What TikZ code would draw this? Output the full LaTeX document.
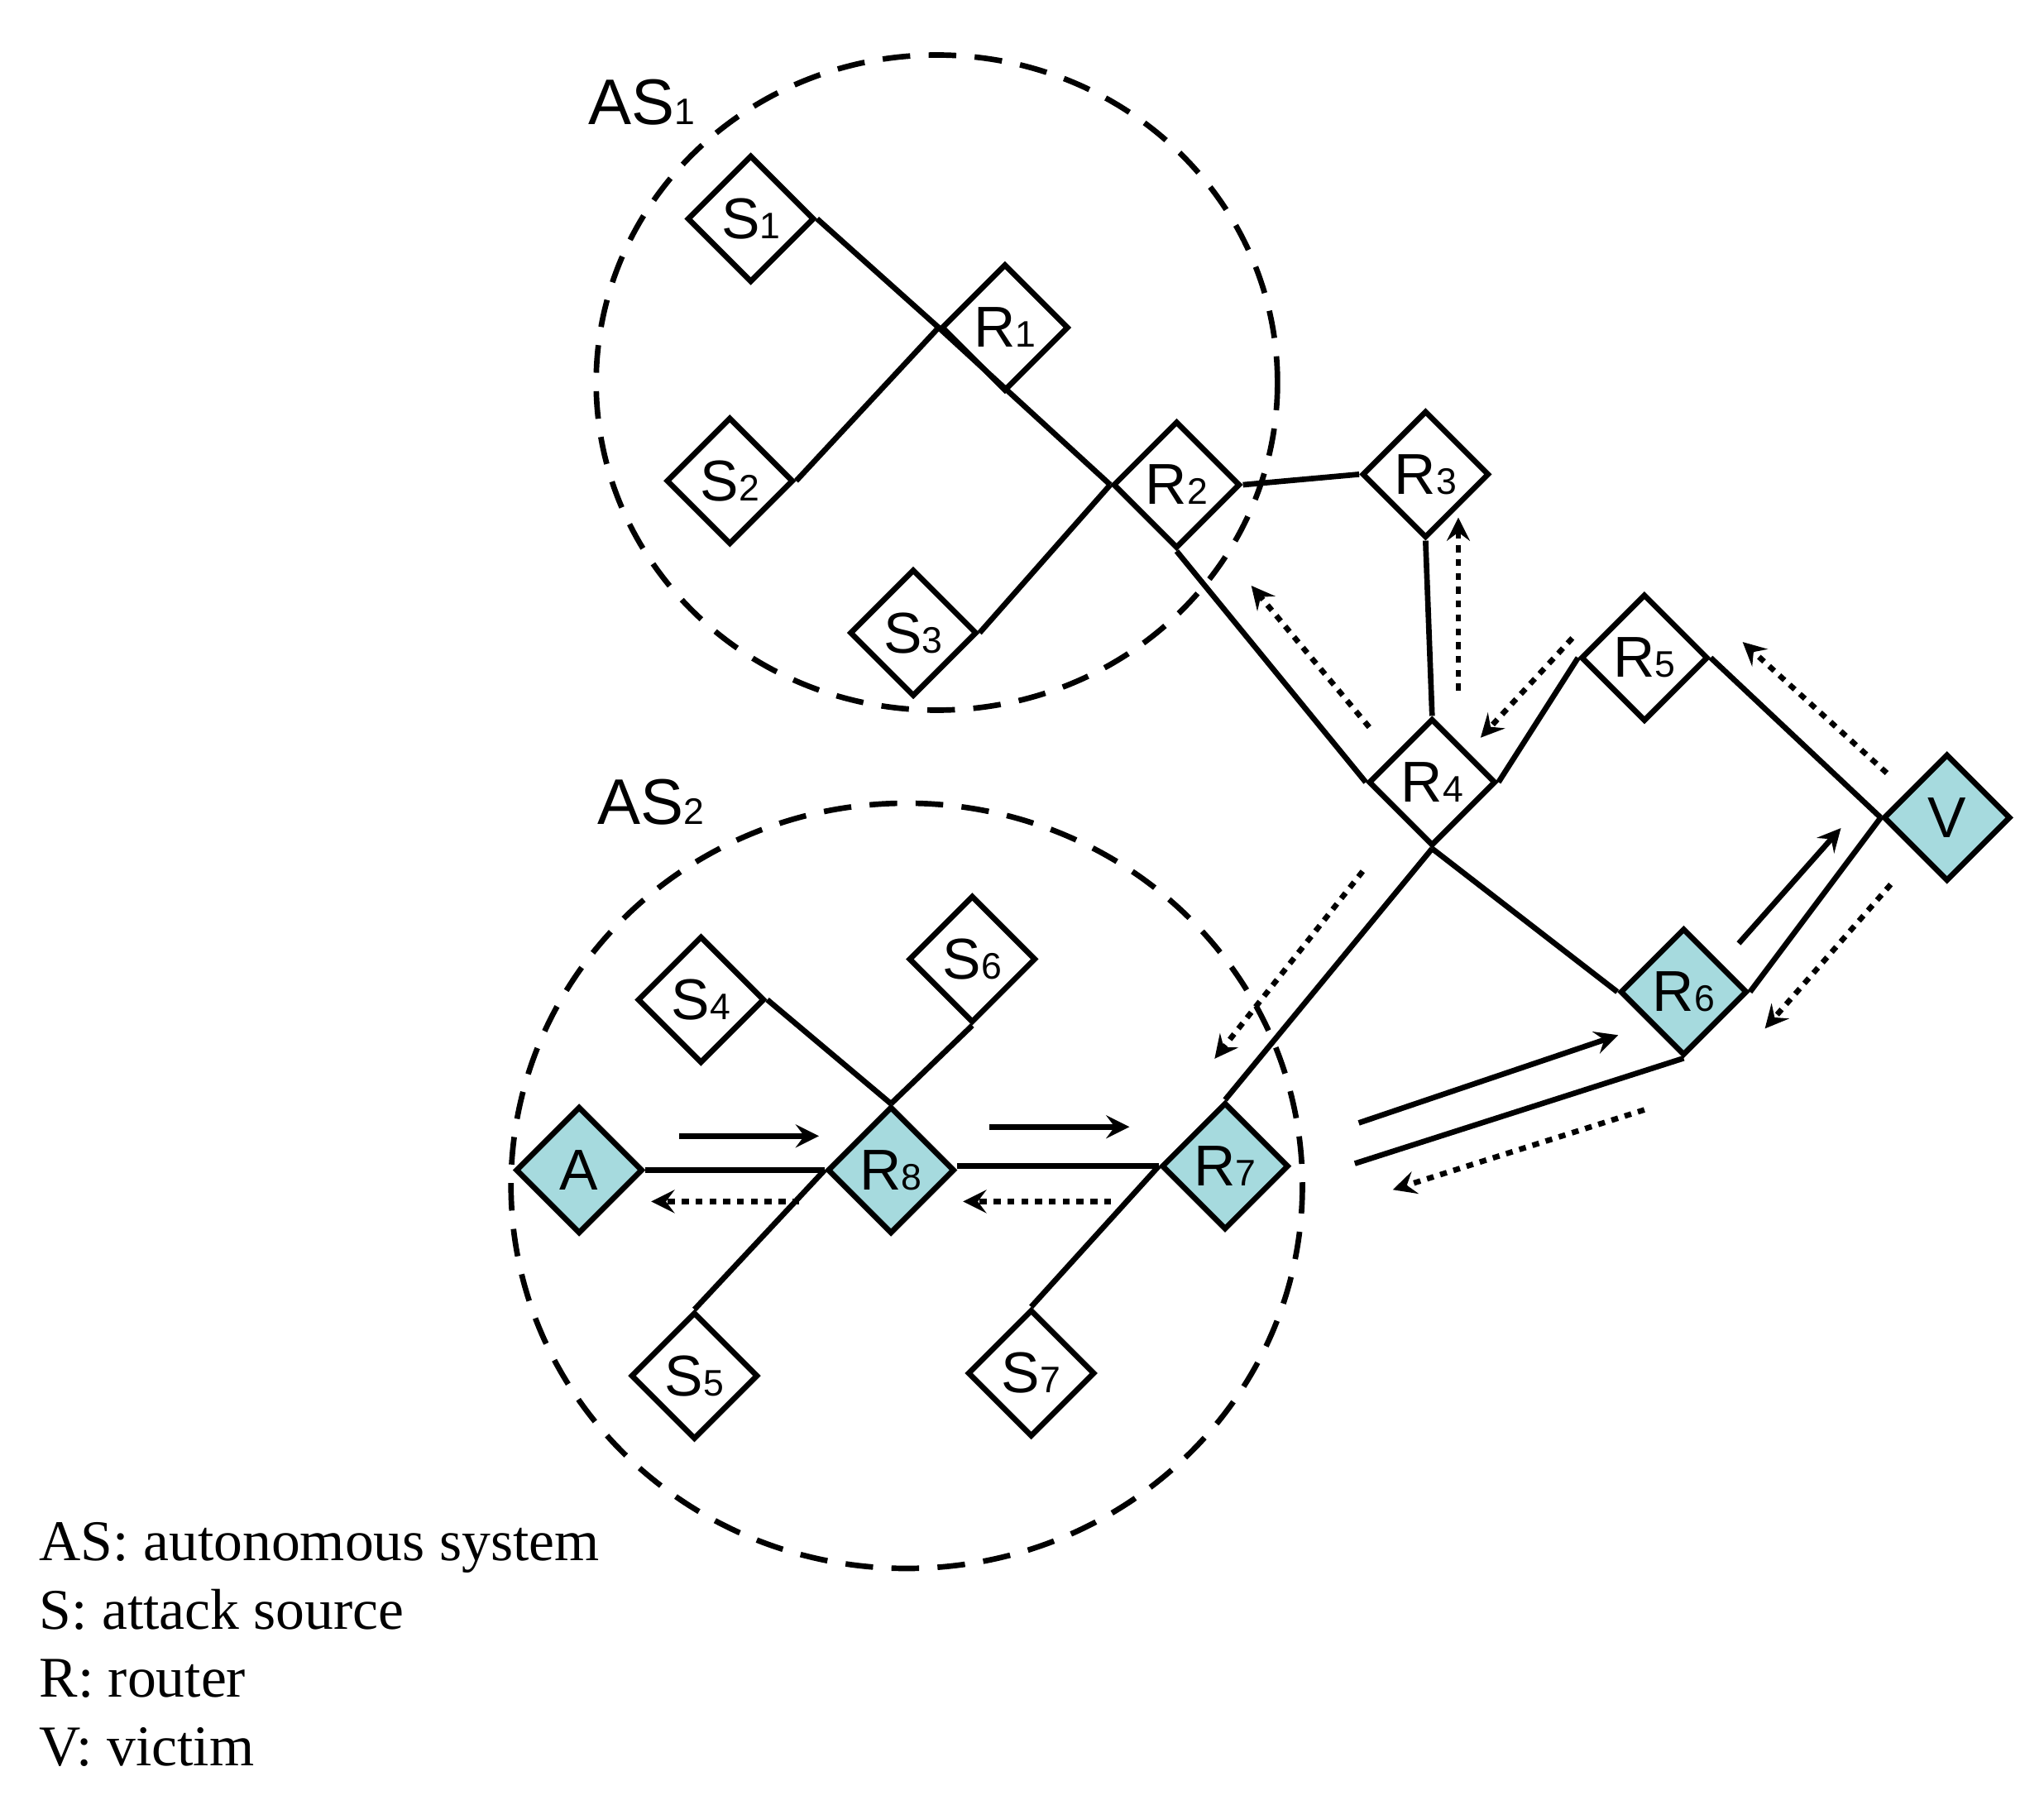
\documentclass[tikz,border=0pt]{standalone}
\usepackage{fontspec}
\setmainfont{Liberation Sans}
\newfontfamily\legendfont{Liberation Serif}
\usetikzlibrary{shapes.geometric}
\definecolor{hostcyan}{RGB}{166,218,222}
\newcommand{\idx}[1]{{\fontsize{8}{8}\selectfont #1}}
\begin{document}
\begin{tikzpicture}[x=0.01cm,y=-0.01cm,line width=1.2pt]
\tikzstyle{box} = [diamond, aspect=1, draw=black, inner sep=0pt, minimum width=0.97cm, minimum height=0.97cm, font=\fontsize{12.5}{15}\selectfont]
\tikzstyle{hot} = [box, fill=hostcyan]
\tikzstyle{area} = [draw=black, dashed, dash pattern=on 6pt off 4pt]
\tikzstyle{arrow} = [->,>=stealth]
\tikzstyle{trace} = [->,>=stealth, dotted, dash pattern=on 1.5pt off 1.5pt]
\tikzstyle{tag} = [font=\fontsize{14}{18}\selectfont]

\useasboundingbox (0,0) rectangle (1560,1377);

% autonomous systems
\draw [area] (715,292) ellipse [x radius=260, y radius=250];
\draw [area] (692,905) ellipse [x radius=302, y radius=292];
\node (AS1) [tag] at (490,78) {AS\idx{1}};
\node (AS2) [tag] at (497,612) {AS\idx{2}};

% nodes
\node (S1) [box] at (573,167) {S\idx{1}};
\node (R1) [box] at (767,250) {R\idx{1}};
\node (S2) [box] at (557,367) {S\idx{2}};
\node (R2) [box] at (898,370) {R\idx{2}};
\node (S3) [box] at (697,483) {S\idx{3}};
\node (R3) [box] at (1088,362) {R\idx{3}};
\node (R4) [box] at (1093,597) {R\idx{4}};
\node (R5) [box] at (1255,502) {R\idx{5}};
\node (V) [hot] at (1486,624) {V};
\node (R6) [hot] at (1285,757) {R\idx{6}};
\node (S4) [box] at (535,763) {S\idx{4}};
\node (S6) [box] at (742,732) {S\idx{6}};
\node (A) [hot] at (442,893) {A};
\node (R8) [hot] at (680,893) {R\idx{8}};
\node (R7) [hot] at (935,890) {R\idx{7}};
\node (S5) [box] at (530,1050) {S\idx{5}};
\node (S7) [box] at (787,1048) {S\idx{7}};
\coordinate (Loose) at (1034,888);

% links
\draw (S1.east) -- (R1.west) -- (R2.west);
\draw (S2.east) -- (R1.west);
\draw (S3.east) -- (R2.west);
\draw (R2.south) -- (R4.west);
\draw (R2.east) -- (R3.west);
\draw (R3.south) -- (R4.north);
\draw (R4.east) -- (R5.west);
\draw (R5.east) -- (V.west);
\draw (R4.south) -- (R6.west);
\draw (R4.south) -- (R7.north);
\draw (V.west) -- (R6.east);
\draw (R6.south) -- (Loose);
\draw (R8.east |- R7.west) -- (R7.west);
\draw (A.east) -- (R8.west);
\draw (S4.east) -- (R8.north);
\draw (S6.south) -- (R8.north);
\draw (S5.north) -- (R8.west);
\draw (S7.north) -- (R7.west);

% attack flow
\draw [arrow] (518,867) -- (625,867);
\draw [arrow] (755,860) -- (862,860);
\draw [arrow] (1037,857) -- (1235,790);
\draw [arrow] (1327,720) -- (1405,632);

% traceback
\draw [trace] (610,917) -- (497,917);
\draw [trace] (848,917) -- (735,917);
\draw [trace] (1255,847) -- (1063,908);
\draw [trace] (1443,675) -- (1347,785);
\draw [trace] (1440,590) -- (1330,490);
\draw [trace] (1200,487) -- (1130,563);
\draw [trace] (1113,527) -- (1113,395);
\draw [trace] (1045,555) -- (955,447);
\draw [trace] (1040,665) -- (927,808);

% legend
\node (Legend) [anchor=north west, align=left, inner sep=0pt, font=\legendfont\fontsize{12.5}{14.8}\selectfont] at (28,1160)
{AS: autonomous system\\S: attack source\\R: router\\V: victim};
\end{tikzpicture}
\end{document}
